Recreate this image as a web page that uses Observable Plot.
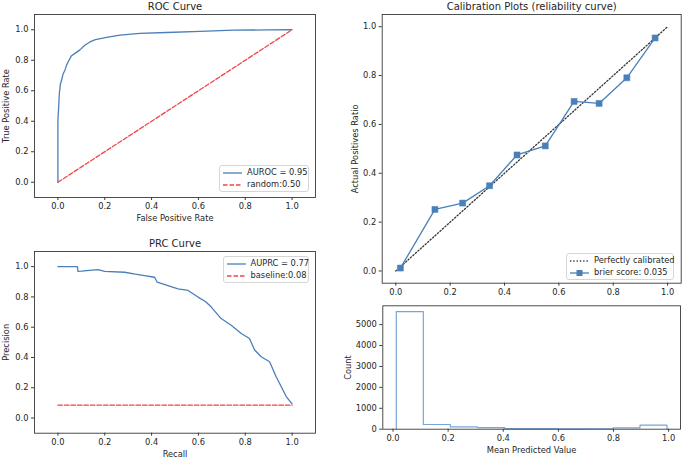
<!DOCTYPE html>
<html>
<head>
<meta charset="utf-8">
<script src="https://cdn.jsdelivr.net/npm/d3@7"></script>
<script src="https://cdn.jsdelivr.net/npm/@observablehq/plot@0.6"></script>
<style>
  body { margin: 0; background: white; }
  #wrap { position: relative; width: 685px; height: 460px; background: white; font-family: "DejaVu Sans", sans-serif; color: #262626; }
  #wrap > svg, #wrap > .pl { position: absolute; }
  .legend { position: absolute; box-sizing: border-box; border: 1px solid #d6d6d6; border-radius: 3px; background: rgba(255,255,255,0.85); font-size: 8.3px; padding: 1px 3px; line-height: 11.7px; white-space: nowrap; }
  .legend .row { display: flex; align-items: center; height: 11.7px; }
  .legend svg { margin-right: 5px; flex: none; }
</style>
</head>
<body>
<div id="wrap"></div>
<script>
// ---------- data ----------
const rocFpr = [0, 0, 0.003, 0.006, 0.011, 0.016, 0.022, 0.030, 0.037, 0.044, 0.058, 0.073, 0.094, 0.116, 0.137, 0.160, 0.208, 0.265, 0.350, 0.464, 0.607, 0.750, 0.900, 1.0];
const rocTpr = [0, 0.406, 0.49, 0.58, 0.647, 0.67, 0.71, 0.735, 0.768, 0.79, 0.83, 0.845, 0.868, 0.9, 0.92, 0.935, 0.95, 0.965, 0.976, 0.982, 0.99, 0.997, 0.999, 1.0];
const randomX = [0, 1];
const randomY = [0, 1];

const prcRecall = [0, 0.083, 0.086, 0.10, 0.171, 0.2, 0.285, 0.33, 0.37, 0.413, 0.424, 0.47, 0.513, 0.556, 0.598, 0.63, 0.655, 0.697, 0.74, 0.783, 0.818, 0.84, 0.868, 0.904, 0.932, 0.954, 0.975, 1.0];
const prcPrecision = [1.0, 1.0, 0.969, 0.97, 0.98, 0.969, 0.963, 0.95, 0.94, 0.93, 0.897, 0.875, 0.853, 0.843, 0.799, 0.77, 0.733, 0.657, 0.613, 0.558, 0.525, 0.449, 0.405, 0.372, 0.273, 0.207, 0.142, 0.094];
const baselineX = [0, 1];
const baselineY = [0.085, 0.085];

const calMeanPred = [0.017, 0.144, 0.246, 0.345, 0.446, 0.550, 0.656, 0.748, 0.850, 0.954];
const calFracPos = [0.012, 0.252, 0.278, 0.349, 0.475, 0.512, 0.694, 0.686, 0.791, 0.954];
const perfectX = [0, 1];
const perfectY = [0, 1];

const histEdges = [0.012, 0.110, 0.208, 0.306, 0.405, 0.503, 0.601, 0.699, 0.798, 0.896, 0.994];
const histCounts = [5620, 225, 115, 80, 30, 25, 20, 22, 67, 192];

const unitTicks = [0, 0.2, 0.4, 0.6, 0.8, 1.0];
const countTicks = [0, 1000, 2000, 3000, 4000, 5000];

const labels = {
  rocTitle: "ROC Curve", rocX: "False Positive Rate", rocY: "True Positive Rate",
  rocLegend: ["AUROC = 0.95", "random:0.50"],
  prcTitle: "PRC Curve", prcX: "Recall", prcY: "Precision",
  prcLegend: ["AUPRC = 0.77", "baseline:0.08"],
  calTitle: "Calibration Plots (reliability curve)", calY: "Actual Positives Ratio",
  calLegend: ["Perfectly calibrated", "brier score: 0.035"],
  histX: "Mean Predicted Value", histY: "Count"
};

// ---------- styles ----------
const BLUE = "#4a7fb8";
const RED = "#f04545";
const HISTBLUE = "#76a5da";
const FRAME = "#3a3a3a";
const f1 = d3.format(".1f");
const baseStyle = {fontFamily: "DejaVu Sans, sans-serif", fontSize: "8.3px", color: "#262626", background: "transparent", overflow: "visible"};

const wrap = document.getElementById("wrap");
function place(svg, left, top) {
  svg.style.left = left + "px";
  svg.style.top = top + "px";
  wrap.appendChild(svg);
}
function zip(xs, ys) { return xs.map((x, i) => ({x, y: ys[i]})); }

function titleMark(t, dy) {
  return Plot.text([t], {text: d => d, frameAnchor: "top", lineAnchor: "middle", dy, fontSize: 10, fill: "#262626"});
}
function xLabelMark(t, dy) {
  return Plot.text([t], {text: d => d, frameAnchor: "bottom", lineAnchor: "middle", dy, fill: "#262626"});
}
function yLabelMark(t, dx) {
  return Plot.text([t], {text: d => d, frameAnchor: "left", lineAnchor: "middle", textAnchor: "middle", dx, rotate: -90, fill: "#262626"});
}
function axes(xTicks, yTicks, xFmt, yFmt) {
  return [
    Plot.axisX({ticks: xTicks, tickFormat: xFmt, tickSize: 3, tickPadding: 3, label: null, stroke: FRAME}),
    Plot.axisY({ticks: yTicks, tickFormat: yFmt, tickSize: 3, tickPadding: 3, label: null, stroke: FRAME})
  ];
}

// ---------- ROC ----------
const roc = Plot.plot({
  width: 340, height: 230,
  marginLeft: 34, marginRight: 25, marginTop: 14, marginBottom: 33,
  style: baseStyle,
  x: {domain: [-0.1, 1.1]},
  y: {domain: [-0.1, 1.1]},
  marks: [
    ...axes(unitTicks, unitTicks, f1, f1),
    Plot.line(zip(rocFpr, rocTpr), {x: "x", y: "y", stroke: BLUE, strokeWidth: 1.3}),
    Plot.line(zip(randomX, randomY), {x: "x", y: "y", stroke: RED, strokeWidth: 1.3, strokeDasharray: "4.5,2"}),
    Plot.frame({stroke: FRAME, strokeWidth: 0.9}),
    titleMark(labels.rocTitle, -7.3),
    xLabelMark(labels.rocX, 21),
    yLabelMark(labels.rocY, -28)
  ]
});
place(roc, 0, 0);

// ---------- PRC ----------
const prc = Plot.plot({
  width: 340, height: 230,
  marginLeft: 34, marginRight: 25, marginTop: 21, marginBottom: 27.3,
  style: baseStyle,
  x: {domain: [-0.1, 1.1]},
  y: {domain: [-0.1, 1.1]},
  marks: [
    ...axes(unitTicks, unitTicks, f1, f1),
    Plot.line(zip(prcRecall, prcPrecision), {x: "x", y: "y", stroke: BLUE, strokeWidth: 1.3}),
    Plot.line(zip(baselineX, baselineY), {x: "x", y: "y", stroke: RED, strokeWidth: 1.3, strokeDasharray: "4.5,2"}),
    Plot.frame({stroke: FRAME, strokeWidth: 0.9}),
    titleMark(labels.prcTitle, -8),
    xLabelMark(labels.prcX, 21.3),
    yLabelMark(labels.prcY, -28)
  ]
});
place(prc, 0, 230);

// ---------- Calibration ----------
const cal = Plot.plot({
  width: 345, height: 300,
  marginLeft: 41.7, marginRight: 4.3, marginTop: 14, marginBottom: 17.3,
  style: baseStyle,
  x: {domain: [-0.05, 1.05]},
  y: {domain: [-0.05, 1.05]},
  marks: [
    ...axes(unitTicks, unitTicks, f1, f1),
    Plot.line(zip(perfectX, perfectY), {x: "x", y: "y", stroke: "#333", strokeWidth: 1.3, strokeDasharray: "1.3,2"}),
    Plot.line(zip(calMeanPred, calFracPos), {x: "x", y: "y", stroke: BLUE, strokeWidth: 1.3}),
    Plot.dot(zip(calMeanPred, calFracPos), {x: "x", y: "y", symbol: "square", r: 3.4, fill: BLUE, stroke: BLUE, strokeWidth: 0.5}),
    Plot.frame({stroke: FRAME, strokeWidth: 0.9}),
    titleMark(labels.calTitle, -8),
    yLabelMark(labels.calY, -26.7)
  ]
});
place(cal, 340, 0);

// ---------- Histogram ----------
const histPts = [{x: histEdges[0], y: 0}];
histCounts.forEach((c, i) => { histPts.push({x: histEdges[i], y: c}); histPts.push({x: histEdges[i + 1], y: c}); });
histPts.push({x: histEdges[histEdges.length - 1], y: 0});

const hist = Plot.plot({
  width: 345, height: 160,
  marginLeft: 42.3, marginRight: 5, marginTop: 5.3, marginBottom: 31.3,
  style: baseStyle,
  x: {domain: [-0.037, 1.043]},
  y: {domain: [0, 5900]},
  marks: [
    ...axes(unitTicks, countTicks, f1, d3.format("d")),
    Plot.line(histPts, {x: "x", y: "y", stroke: HISTBLUE, strokeWidth: 1.2}),
    Plot.frame({stroke: FRAME, strokeWidth: 0.9}),
    xLabelMark(labels.histX, 21.3),
    yLabelMark(labels.histY, -34.3)
  ]
});
place(hist, 340, 300);

// ---------- Legends ----------
function sample(kind, color) {
  const ns = "http://www.w3.org/2000/svg";
  const s = document.createElementNS(ns, "svg");
  s.setAttribute("width", 19); s.setAttribute("height", 8);
  const l = document.createElementNS(ns, "line");
  l.setAttribute("x1", 0); l.setAttribute("x2", 19); l.setAttribute("y1", 4); l.setAttribute("y2", 4);
  l.setAttribute("stroke", color); l.setAttribute("stroke-width", 1.3);
  if (kind === "dash") l.setAttribute("stroke-dasharray", "4.5,2");
  if (kind === "dot") l.setAttribute("stroke-dasharray", "1.3,2");
  s.appendChild(l);
  if (kind === "square") {
    const r = document.createElementNS(ns, "rect");
    r.setAttribute("x", 6.5); r.setAttribute("y", 1); r.setAttribute("width", 6); r.setAttribute("height", 6);
    r.setAttribute("fill", color);
    s.appendChild(r);
  }
  return s;
}
function legend(left, top, width, entries) {
  const d = document.createElement("div");
  d.className = "legend";
  d.style.left = left + "px"; d.style.top = top + "px"; d.style.width = width + "px";
  for (const [kind, color, text] of entries) {
    const row = document.createElement("div");
    row.className = "row";
    row.appendChild(sample(kind, color));
    const span = document.createElement("span");
    span.textContent = text;
    row.appendChild(span);
    d.appendChild(row);
  }
  wrap.appendChild(d);
}
legend(219, 165, 90, [["solid", BLUE, labels.rocLegend[0]], ["dash", RED, labels.rocLegend[1]]]);
legend(222.5, 256, 86.5, [["solid", BLUE, labels.prcLegend[0]], ["dash", RED, labels.prcLegend[1]]]);
legend(566, 253, 107.5, [["dot", "#333", labels.calLegend[0]], ["square", BLUE, labels.calLegend[1]]]);
</script>
</body>
</html>
